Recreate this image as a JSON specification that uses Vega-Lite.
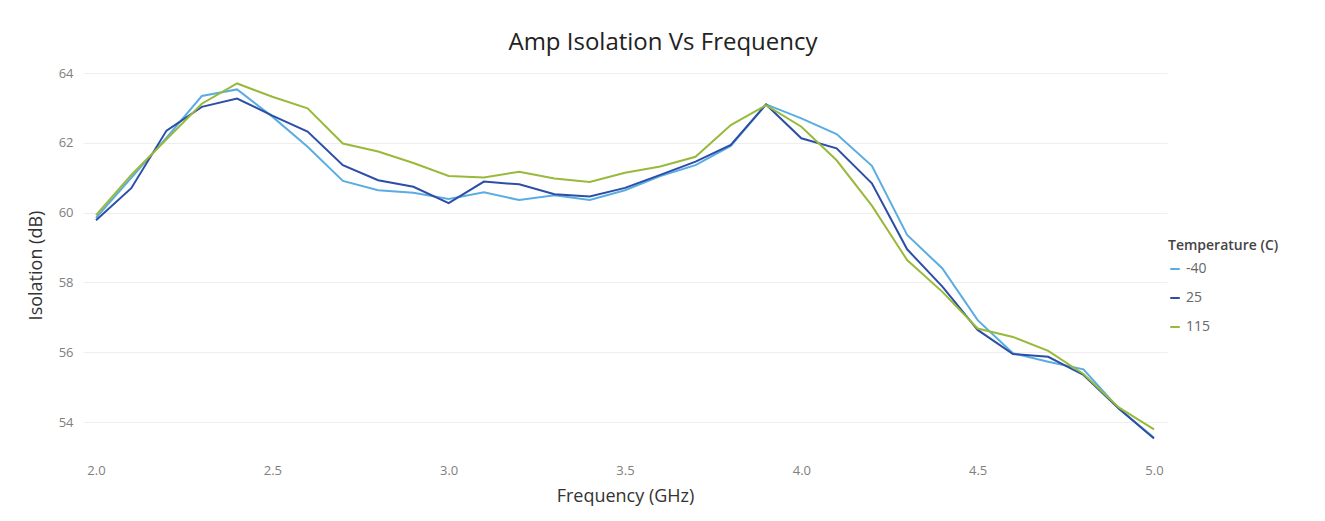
{
  "$schema": "https://vega.github.io/schema/vega-lite/v6.json",
  "autosize": "none",
  "width": 1084,
  "height": 384,
  "padding": {"left": 83, "top": 73, "right": 158, "bottom": 64},
  "background": "white",
  "title": {
    "text": "Amp Isolation Vs Frequency",
    "font": "Open Sans",
    "fontSize": 24,
    "fontWeight": "normal",
    "color": "#222222",
    "anchor": "middle",
    "dx": 38,
    "offset": 12
  },
  "config": {
    "view": {"stroke": null},
    "font": "Open Sans",
    "axis": {
      "domain": false,
      "ticks": false,
      "labelColor": "#808080",
      "labelFont": "Open Sans",
      "labelFontSize": 13,
      "titleFont": "Open Sans",
      "titleFontSize": 18,
      "titleFontWeight": "normal",
      "titleColor": "#333333",
      "gridColor": "#eeeeee",
      "gridWidth": 1
    }
  },
  "data": {
    "values": [
      {"freq": 2.0, "temp": "-40", "iso": 59.85}, {"freq": 2.0, "temp": "25", "iso": 59.78}, {"freq": 2.0, "temp": "115", "iso": 59.93},
      {"freq": 2.1, "temp": "-40", "iso": 61.0}, {"freq": 2.1, "temp": "25", "iso": 60.7}, {"freq": 2.1, "temp": "115", "iso": 61.08},
      {"freq": 2.2, "temp": "-40", "iso": 62.15}, {"freq": 2.2, "temp": "25", "iso": 62.35}, {"freq": 2.2, "temp": "115", "iso": 62.1},
      {"freq": 2.3, "temp": "-40", "iso": 63.34}, {"freq": 2.3, "temp": "25", "iso": 63.03}, {"freq": 2.3, "temp": "115", "iso": 63.12},
      {"freq": 2.4, "temp": "-40", "iso": 63.53}, {"freq": 2.4, "temp": "25", "iso": 63.27}, {"freq": 2.4, "temp": "115", "iso": 63.7},
      {"freq": 2.5, "temp": "-40", "iso": 62.75}, {"freq": 2.5, "temp": "25", "iso": 62.78}, {"freq": 2.5, "temp": "115", "iso": 63.32},
      {"freq": 2.6, "temp": "-40", "iso": 61.89}, {"freq": 2.6, "temp": "25", "iso": 62.32}, {"freq": 2.6, "temp": "115", "iso": 62.99},
      {"freq": 2.7, "temp": "-40", "iso": 60.91}, {"freq": 2.7, "temp": "25", "iso": 61.36}, {"freq": 2.7, "temp": "115", "iso": 61.98},
      {"freq": 2.8, "temp": "-40", "iso": 60.64}, {"freq": 2.8, "temp": "25", "iso": 60.93}, {"freq": 2.8, "temp": "115", "iso": 61.75},
      {"freq": 2.9, "temp": "-40", "iso": 60.57}, {"freq": 2.9, "temp": "25", "iso": 60.74}, {"freq": 2.9, "temp": "115", "iso": 61.42},
      {"freq": 3.0, "temp": "-40", "iso": 60.39}, {"freq": 3.0, "temp": "25", "iso": 60.27}, {"freq": 3.0, "temp": "115", "iso": 61.05},
      {"freq": 3.1, "temp": "-40", "iso": 60.58}, {"freq": 3.1, "temp": "25", "iso": 60.89}, {"freq": 3.1, "temp": "115", "iso": 61.01},
      {"freq": 3.2, "temp": "-40", "iso": 60.36}, {"freq": 3.2, "temp": "25", "iso": 60.81}, {"freq": 3.2, "temp": "115", "iso": 61.17},
      {"freq": 3.3, "temp": "-40", "iso": 60.5}, {"freq": 3.3, "temp": "25", "iso": 60.53}, {"freq": 3.3, "temp": "115", "iso": 60.98},
      {"freq": 3.4, "temp": "-40", "iso": 60.36}, {"freq": 3.4, "temp": "25", "iso": 60.46}, {"freq": 3.4, "temp": "115", "iso": 60.88},
      {"freq": 3.5, "temp": "-40", "iso": 60.64}, {"freq": 3.5, "temp": "25", "iso": 60.71}, {"freq": 3.5, "temp": "115", "iso": 61.14},
      {"freq": 3.6, "temp": "-40", "iso": 61.05}, {"freq": 3.6, "temp": "25", "iso": 61.08}, {"freq": 3.6, "temp": "115", "iso": 61.32},
      {"freq": 3.7, "temp": "-40", "iso": 61.36}, {"freq": 3.7, "temp": "25", "iso": 61.46}, {"freq": 3.7, "temp": "115", "iso": 61.6},
      {"freq": 3.8, "temp": "-40", "iso": 61.91}, {"freq": 3.8, "temp": "25", "iso": 61.94}, {"freq": 3.8, "temp": "115", "iso": 62.51},
      {"freq": 3.9, "temp": "-40", "iso": 63.1}, {"freq": 3.9, "temp": "25", "iso": 63.1}, {"freq": 3.9, "temp": "115", "iso": 63.08},
      {"freq": 4.0, "temp": "-40", "iso": 62.7}, {"freq": 4.0, "temp": "25", "iso": 62.13}, {"freq": 4.0, "temp": "115", "iso": 62.46},
      {"freq": 4.1, "temp": "-40", "iso": 62.25}, {"freq": 4.1, "temp": "25", "iso": 61.84}, {"freq": 4.1, "temp": "115", "iso": 61.5},
      {"freq": 4.2, "temp": "-40", "iso": 61.34}, {"freq": 4.2, "temp": "25", "iso": 60.84}, {"freq": 4.2, "temp": "115", "iso": 60.2},
      {"freq": 4.3, "temp": "-40", "iso": 59.36}, {"freq": 4.3, "temp": "25", "iso": 58.95}, {"freq": 4.3, "temp": "115", "iso": 58.64},
      {"freq": 4.4, "temp": "-40", "iso": 58.4}, {"freq": 4.4, "temp": "25", "iso": 57.88}, {"freq": 4.4, "temp": "115", "iso": 57.73},
      {"freq": 4.5, "temp": "-40", "iso": 56.92}, {"freq": 4.5, "temp": "25", "iso": 56.64}, {"freq": 4.5, "temp": "115", "iso": 56.68},
      {"freq": 4.6, "temp": "-40", "iso": 55.97}, {"freq": 4.6, "temp": "25", "iso": 55.95}, {"freq": 4.6, "temp": "115", "iso": 56.44},
      {"freq": 4.7, "temp": "-40", "iso": 55.73}, {"freq": 4.7, "temp": "25", "iso": 55.87}, {"freq": 4.7, "temp": "115", "iso": 56.04},
      {"freq": 4.8, "temp": "-40", "iso": 55.51}, {"freq": 4.8, "temp": "25", "iso": 55.35}, {"freq": 4.8, "temp": "115", "iso": 55.38},
      {"freq": 4.9, "temp": "-40", "iso": 54.39}, {"freq": 4.9, "temp": "25", "iso": 54.39}, {"freq": 4.9, "temp": "115", "iso": 54.42},
      {"freq": 5.0, "temp": "-40", "iso": 53.55}, {"freq": 5.0, "temp": "25", "iso": 53.53}, {"freq": 5.0, "temp": "115", "iso": 53.79}
    ]
  },
  "mark": {"type": "line", "strokeWidth": 2, "clip": false},
  "encoding": {
    "x": {
      "field": "freq",
      "type": "quantitative",
      "title": "Frequency (GHz)",
      "scale": {"domain": [2, 5], "padding": 13, "nice": false, "zero": false},
      "axis": {
        "values": [2.0, 2.5, 3.0, 3.5, 4.0, 4.5, 5.0],
        "format": ".1f",
        "grid": false,
        "labelPadding": 7,
        "titlePadding": 10
      }
    },
    "y": {
      "field": "iso",
      "type": "quantitative",
      "title": "Isolation (dB)",
      "scale": {"domain": [53, 64], "nice": false, "zero": false},
      "axis": {
        "values": [54, 56, 58, 60, 62, 64],
        "labelPadding": 10,
        "titlePadding": 13
      }
    },
    "color": {
      "field": "temp",
      "type": "nominal",
      "title": "Temperature (C)",
      "scale": {"domain": ["-40", "25", "115"], "range": ["#5aade2", "#2c4ea6", "#99b93b"]},
      "legend": {
        "orient": "none",
        "legendX": 1085,
        "legendY": 166,
        "symbolType": "stroke",
        "symbolStrokeWidth": 2,
        "symbolSize": 90,
        "labelFont": "Open Sans",
        "labelFontSize": 14,
        "labelColor": "#666666",
        "titleFont": "Open Sans",
        "titleFontSize": 14,
        "titleFontWeight": 600,
        "titleColor": "#444444",
        "rowPadding": 15,
        "titlePadding": 9
      }
    }
  }
}
